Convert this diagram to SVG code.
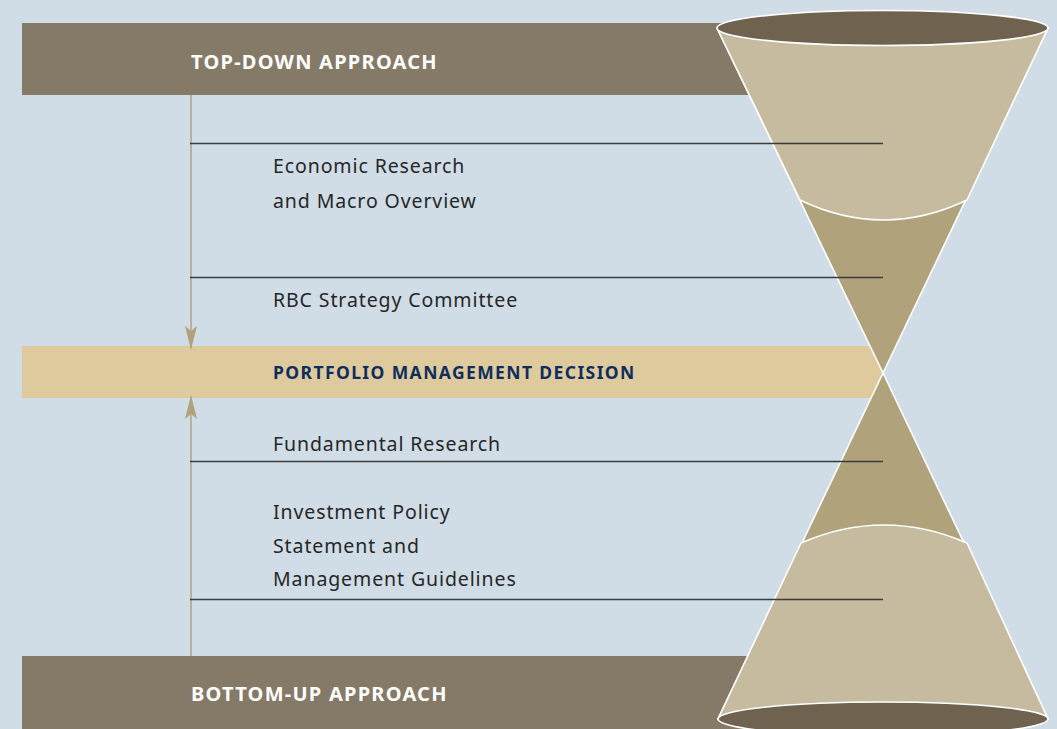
<svg xmlns="http://www.w3.org/2000/svg" width="1057" height="729" viewBox="0 0 1057 729">
<defs>
<style>
.band{fill:#857a68}
.head{font-family:"Noto Sans","Open Sans",sans-serif;font-weight:bold;font-size:20px;fill:#ffffff;letter-spacing:1.25px}
.decision{font-family:"Noto Sans","Open Sans",sans-serif;font-weight:bold;font-size:17.5px;fill:#0d2d5e;letter-spacing:1.4px}
.lbl{font-family:"Noto Sans","Open Sans",sans-serif;font-size:19.5px;fill:#262626;letter-spacing:0.9px}
.rule{stroke:#3a3a3a;stroke-width:1.3;fill:none}
.flow{stroke:#b0a37c;stroke-width:1.5;fill:none}
.edge{stroke:#ffffff;stroke-width:1.6;stroke-linejoin:round}
</style>
<marker id="arr" viewBox="0 0 24 12" refX="22" refY="6" markerWidth="24" markerHeight="12" markerUnits="userSpaceOnUse" orient="auto">
<path d="M0,0 L24,6 L0,12 L5,6 Z" fill="#b0a37c"/>
</marker>
</defs>
<rect x="0" y="0" width="1057" height="729" fill="#d0dde6"/>
<g id="top-down">
<rect class="band" x="22" y="23" width="740" height="72"/>
<text class="head" x="191" y="69">TOP-DOWN APPROACH</text>
</g>
<g id="bottom-up">
<rect class="band" x="22" y="656" width="740" height="73"/>
<text class="head" x="191" y="701">BOTTOM-UP APPROACH</text>
</g>
<g id="decision">
<rect x="22" y="346" width="861" height="52" fill="#dfca9d"/>
<text class="decision" x="273" y="378.5">PORTFOLIO MANAGEMENT DECISION</text>
</g>
<g id="hourglass">
<path class="edge" d="M717,28 L883,373 L1048,28 Z" fill="#b0a37c"/>
<path class="edge" d="M717,28 L800,200 Q883.5,240 967,200 L1048,28 Z" fill="#c6bb9f"/>
<ellipse class="edge" cx="882.5" cy="28" rx="165.5" ry="17.5" fill="#6f6350"/>
<path class="edge" d="M718,719 L883,373 L1048,719 Z" fill="#b0a37c"/>
<path class="edge" d="M718,719 L801,543 Q884,507 967,543 L1048,719 Z" fill="#c6bb9f"/>
<ellipse class="edge" cx="883" cy="719" rx="165" ry="17" fill="#6f6350"/>
</g>
<g id="connectors">
<line class="flow" x1="191" y1="95" x2="191" y2="348" marker-end="url(#arr)"/>
<line class="flow" x1="191" y1="656" x2="191" y2="397" marker-end="url(#arr)"/>
<line class="rule" x1="190" y1="143.5" x2="883" y2="143.5"/>
<line class="rule" x1="190" y1="277.5" x2="883" y2="277.5"/>
<line class="rule" x1="190" y1="461.5" x2="883" y2="461.5"/>
<line class="rule" x1="190" y1="599.5" x2="883" y2="599.5"/>
</g>
<g id="econ">
<text class="lbl" x="273" y="173">Economic Research</text>
<text class="lbl" x="273" y="208">and Macro Overview</text>
</g>
<g id="rbc">
<text class="lbl" x="273" y="307">RBC Strategy Committee</text>
</g>
<g id="fundamental">
<text class="lbl" x="273" y="451">Fundamental Research</text>
</g>
<g id="ips">
<text class="lbl" x="273" y="519">Investment Policy</text>
<text class="lbl" x="273" y="553">Statement and</text>
<text class="lbl" x="273" y="586">Management Guidelines</text>
</g>
</svg>
